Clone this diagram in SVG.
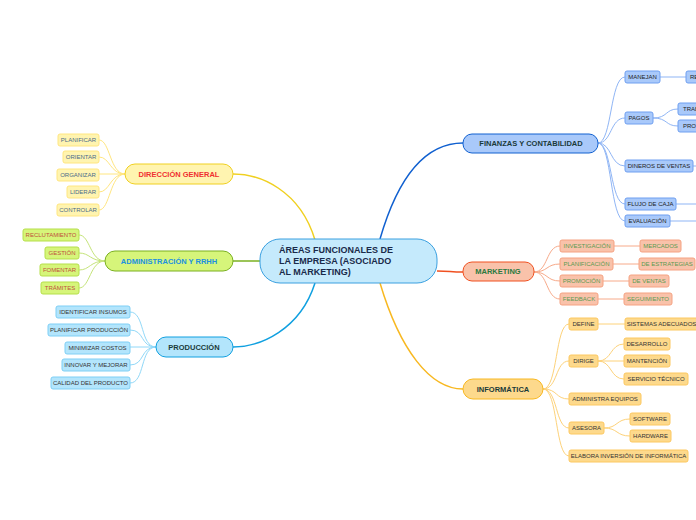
<svg xmlns="http://www.w3.org/2000/svg" width="696" height="520" viewBox="0 0 696 520">
<style>
text{font-family:"Liberation Sans",Arial,sans-serif;font-size:6px;text-anchor:middle;dominant-baseline:central}
.m text{font-size:7.5px;font-weight:bold}
.y rect{fill:#fff4b0;stroke:#ffe680}.y text{fill:#4a6a8a}
.g rect{fill:#d6f57a;stroke:#b5df4a}.g text{fill:#c0503a}
.b rect{fill:#b3e5fc;stroke:#7fcff5}.b text{fill:#333}
.f rect{fill:#a9c9fa;stroke:#6f9ff0}.f text{fill:#222}
.r rect{fill:#f9c2aa;stroke:#f5a282}.r text{fill:#5a9a50}
.o rect{fill:#fdd98c;stroke:#fcc860}.o text{fill:#333}
path{fill:none}
</style>
<g id="connectors">
<path d="M315,240 C300,190 260,174 233,174" stroke="#f0d020" stroke-width="1.5"/>
<path d="M260,261 H233" stroke="#7ab020" stroke-width="1.5"/>
<path d="M315,283 C300,330 260,347 233,347" stroke="#10a0e0" stroke-width="1.5"/>
<path d="M380,239 C400,170 430,143 463,143" stroke="#1060d0" stroke-width="1.5"/>
<path d="M437,271 C450,271 450,272 463,272" stroke="#f05020" stroke-width="1.5"/>
<path d="M380,283 C400,350 430,389 463,389" stroke="#f8b820" stroke-width="1.5"/>
<g stroke="#ffe680">
<path d="M125,174 C110,174 110,140 99,140"/><path d="M125,174 C110,174 110,157 99,157"/><path d="M125,174 H99"/><path d="M125,174 C110,174 110,192 99,192"/><path d="M125,174 C110,174 110,210 99,210"/>
</g>
<g stroke="#c5e47a">
<path d="M105,261 C90,261 90,235 79,235"/><path d="M105,261 C90,261 90,253 79,253"/><path d="M105,261 C90,261 90,270 79,270"/><path d="M105,261 C90,261 90,288 79,288"/>
</g>
<g stroke="#90d8f8">
<path d="M156,347 C140,347 145,312 130,312"/><path d="M156,347 C140,347 145,330 130,330"/><path d="M156,347 H130"/><path d="M156,347 C140,347 145,365 130,365"/><path d="M156,347 C140,347 145,383 130,383"/>
</g>
<g stroke="#8fb5f5">
<path d="M598,143 C612,143 610,77 625,77"/><path d="M598,143 C612,143 610,118 625,118"/><path d="M598,143 C612,143 610,166 625,166"/><path d="M598,143 C612,143 610,204 625,204"/><path d="M598,143 C612,143 610,221 625,221"/>
<path d="M660,77 H686"/><path d="M653,118 C668,118 665,109 678,109"/><path d="M653,118 C668,118 665,126 678,126"/><path d="M693,166 H696"/><path d="M676,204 H696"/><path d="M670,221 H696"/>
</g>
<g stroke="#f7aa8a">
<path d="M534,272 C548,272 546,246 560,246"/><path d="M534,272 C548,272 546,264 560,264"/><path d="M534,272 C548,272 546,281 560,281"/><path d="M534,272 C548,272 546,299 560,299"/>
<path d="M614,246 H640"/><path d="M613,264 H639"/><path d="M603,281 H629"/><path d="M598,299 H624"/>
</g>
<g stroke="#fdd27a">
<path d="M543,389 C558,389 555,324 569,324"/><path d="M543,389 C558,389 555,361 569,361"/><path d="M543,389 C558,389 555,399 569,399"/><path d="M543,389 C558,389 555,428 569,428"/><path d="M543,389 C558,389 555,456 569,456"/>
<path d="M598,324 H625"/><path d="M598,361 C612,361 610,344 624,344"/><path d="M598,361 H624"/><path d="M598,361 C612,361 610,379 624,379"/><path d="M604,428 C618,428 616,419 630,419"/><path d="M604,428 C618,428 616,436 630,436"/>
</g>
</g>
<g id="central"><rect x="260" y="239" width="177" height="44" rx="20" fill="#c5eafc" stroke="#3aa0e0"/>
<text x="279" y="250" style="font-size:9px;font-weight:bold;text-anchor:start" fill="#1a2a4a">ÁREAS FUNCIONALES DE</text>
<text x="279" y="261" style="font-size:9px;font-weight:bold;text-anchor:start" fill="#1a2a4a">LA EMPRESA (ASOCIADO</text>
<text x="279" y="272" style="font-size:9px;font-weight:bold;text-anchor:start" fill="#1a2a4a">AL MARKETING)</text></g>
<g id="direccion" class="m"><rect x="125" y="164" width="108" height="20" rx="10" fill="#fff4b0" stroke="#f0d020"/><text x="179" y="174" fill="#f03030">DIRECCIÓN GENERAL</text></g>
<g id="admin" class="m"><rect x="105" y="251" width="128" height="20" rx="10" fill="#d6f57a" stroke="#7ab020"/><text x="169" y="261" fill="#2090e0">ADMINISTRACIÓN Y RRHH</text></g>
<g id="produccion" class="m"><rect x="156" y="337" width="77" height="20" rx="10" fill="#b3e5fc" stroke="#10a0e0"/><text x="194" y="347" fill="#1a3a3a">PRODUCCIÓN</text></g>
<g id="finanzas" class="m"><rect x="463" y="134" width="135" height="19" rx="9" fill="#a9c9fa" stroke="#1060d0"/><text x="531" y="143.5" fill="#1a3a3a">FINANZAS Y CONTABILIDAD</text></g>
<g id="marketing" class="m"><rect x="463" y="262" width="71" height="19" rx="9" fill="#f9c2aa" stroke="#f05020"/><text x="498" y="271.5" fill="#2a7a40">MARKETING</text></g>
<g id="informatica" class="m"><rect x="463" y="379" width="80" height="20" rx="10" fill="#fdd98c" stroke="#f8b820"/><text x="503" y="389" fill="#1a3a3a">INFORMÁTICA</text></g>
<g class="y">
<g id="d1"><rect x="58" y="134" width="41" height="12" rx="2"/><text x="78.5" y="140">PLANIFICAR</text></g>
<g id="d2"><rect x="63" y="151" width="36" height="12" rx="2"/><text x="81" y="157">ORIENTAR</text></g>
<g id="d3"><rect x="57" y="169" width="42" height="12" rx="2"/><text x="78" y="175">ORGANIZAR</text></g>
<g id="d4"><rect x="67" y="186" width="32" height="12" rx="2"/><text x="83" y="192">LIDERAR</text></g>
<g id="d5"><rect x="57" y="204" width="42" height="12" rx="2"/><text x="78" y="210">CONTROLAR</text></g>
</g>
<g class="g">
<g id="a1"><rect x="23" y="229" width="56" height="12" rx="2"/><text x="51" y="235">RECLUTAMIENTO</text></g>
<g id="a2"><rect x="45" y="247" width="34" height="12" rx="2"/><text x="62" y="253">GESTIÓN</text></g>
<g id="a3"><rect x="40" y="264" width="39" height="12" rx="2"/><text x="59.5" y="270">FOMENTAR</text></g>
<g id="a4"><rect x="41" y="282" width="38" height="12" rx="2"/><text x="60" y="288">TRÁMITES</text></g>
</g>
<g class="b">
<g id="p1"><rect x="56" y="306" width="74" height="12" rx="2"/><text x="93" y="312">IDENTIFICAR INSUMOS</text></g>
<g id="p2"><rect x="48" y="324" width="82" height="12" rx="2"/><text x="89" y="330">PLANIFICAR PRODUCCIÓN</text></g>
<g id="p3"><rect x="65" y="342" width="65" height="12" rx="2"/><text x="97.5" y="348">MINIMIZAR COSTOS</text></g>
<g id="p4"><rect x="62" y="359" width="68" height="12" rx="2"/><text x="96" y="365">INNOVAR Y MEJORAR</text></g>
<g id="p5"><rect x="51" y="377" width="79" height="12" rx="2"/><text x="90.5" y="383">CALIDAD DEL PRODUCTO</text></g>
</g>
<g class="f">
<g id="f1"><rect x="625" y="71" width="35" height="12" rx="2"/><text x="642.5" y="77">MANEJAN</text></g>
<g id="f1a"><rect x="686" y="71" width="40" height="12" rx="2"/><text x="690" y="77" style="text-anchor:start">RECURSOS</text></g>
<g id="f2"><rect x="625" y="112" width="28" height="12" rx="2"/><text x="639" y="118">PAGOS</text></g>
<g id="f2a"><rect x="678" y="103" width="40" height="12" rx="2"/><text x="683" y="109" style="text-anchor:start">TRABAJADORES</text></g>
<g id="f2b"><rect x="678" y="120" width="40" height="12" rx="2"/><text x="683" y="126" style="text-anchor:start">PROVEEDORES</text></g>
<g id="f3"><rect x="625" y="160" width="68" height="12" rx="2"/><text x="659" y="166">DINEROS DE VENTAS</text></g>
<g id="f4"><rect x="625" y="198" width="51" height="12" rx="2"/><text x="650.5" y="204">FLUJO DE CAJA</text></g>
<g id="f5"><rect x="625" y="215" width="45" height="12" rx="2"/><text x="647.5" y="221">EVALUACIÓN</text></g>
</g>
<g class="r">
<g id="m1"><rect x="560" y="240" width="54" height="12" rx="2"/><text x="587" y="246">INVESTIGACIÓN</text></g>
<g id="m1a"><rect x="640" y="240" width="41" height="12" rx="2"/><text x="660.5" y="246">MERCADOS</text></g>
<g id="m2"><rect x="560" y="258" width="53" height="12" rx="2"/><text x="586.5" y="264">PLANIFICACIÓN</text></g>
<g id="m2a"><rect x="639" y="258" width="56" height="12" rx="2"/><text x="667" y="264">DE ESTRATEGIAS</text></g>
<g id="m3"><rect x="560" y="275" width="43" height="12" rx="2"/><text x="581.5" y="281">PROMOCIÓN</text></g>
<g id="m3a"><rect x="629" y="275" width="40" height="12" rx="2"/><text x="649" y="281">DE VENTAS</text></g>
<g id="m4"><rect x="560" y="293" width="38" height="12" rx="2"/><text x="579" y="299">FEEDBACK</text></g>
<g id="m4a"><rect x="624" y="293" width="48" height="12" rx="2"/><text x="648" y="299">SEGUIMIENTO</text></g>
</g>
<g class="o">
<g id="i1"><rect x="569" y="318" width="29" height="12" rx="2"/><text x="583.5" y="324">DEFINE</text></g>
<g id="i1a"><rect x="625" y="318" width="73" height="12" rx="2"/><text x="661.5" y="324">SISTEMAS ADECUADOS</text></g>
<g id="i2"><rect x="569" y="355" width="29" height="12" rx="2"/><text x="583.5" y="361">DIRIGE</text></g>
<g id="i2a"><rect x="624" y="338" width="46" height="12" rx="2"/><text x="647" y="344">DESARROLLO</text></g>
<g id="i2b"><rect x="624" y="355" width="46" height="12" rx="2"/><text x="647" y="361">MANTENCIÓN</text></g>
<g id="i2c"><rect x="624" y="373" width="64" height="12" rx="2"/><text x="656" y="379">SERVICIO TÉCNICO</text></g>
<g id="i3"><rect x="569" y="393" width="72" height="12" rx="2"/><text x="605" y="399">ADMINISTRA EQUIPOS</text></g>
<g id="i4"><rect x="569" y="422" width="35" height="12" rx="2"/><text x="586.5" y="428">ASESORA</text></g>
<g id="i4a"><rect x="630" y="413" width="40" height="12" rx="2"/><text x="650" y="419">SOFTWARE</text></g>
<g id="i4b"><rect x="630" y="430" width="41" height="12" rx="2"/><text x="650.5" y="436">HARDWARE</text></g>
<g id="i5"><rect x="569" y="450" width="119" height="12" rx="2"/><text x="628.5" y="456">ELABORA INVERSIÓN DE INFORMÁTICA</text></g>
</g>
</svg>
